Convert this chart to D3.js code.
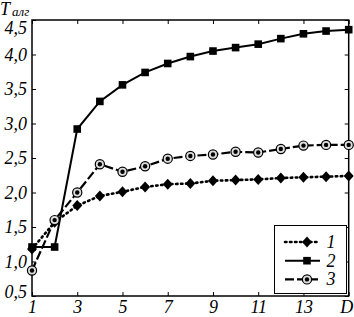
<!DOCTYPE html>
<html>
<head>
<meta charset="utf-8">
<script src="https://cdn.jsdelivr.net/npm/d3@7"></script>
<style>
  html, body { margin: 0; padding: 0; background: #fff; }
  svg text { font-family: "Liberation Serif", "DejaVu Serif", serif; font-style: italic; fill: #000; }
</style>
</head>
<body>
<svg id="chart" width="354" height="317"></svg>
<script>
// x positions: 1..14, the last point sits on D
const xVals = [1, 2, 3, 4, 5, 6, 7, 8, 9, 10, 11, 12, 13, 14, 15];
const series1 = [1.18, 1.57, 1.81, 1.95, 2.01, 2.08, 2.12, 2.13, 2.17, 2.18, 2.19, 2.21, 2.22, 2.23, 2.24];
const series2 = [1.21, 1.21, 2.92, 3.32, 3.56, 3.74, 3.87, 3.97, 4.05, 4.10, 4.15, 4.23, 4.30, 4.34, 4.36];
const series3 = [0.87, 1.60, 2.00, 2.41, 2.30, 2.38, 2.49, 2.53, 2.55, 2.59, 2.58, 2.63, 2.68, 2.69, 2.69];
const seriesNames = ['1', '2', '3'];
const xTicks = [1, 3, 5, 7, 9, 11, 13, 15];
const xTickLabels = ['1', '3', '5', '7', '9', '11', '13', 'D'];
const yTicks = [0.5, 1.0, 1.5, 2.0, 2.5, 3.0, 3.5, 4.0, 4.5];

const svg = d3.select('#chart');
const L = 32, R = 348.7, T = 20, B = 296;
const x = d3.scaleLinear().domain([1, 15]).range([L, R]);
const y = d3.scaleLinear().domain([0.5, 4.5]).range([B, T]);
const fmt = v => v.toFixed(1).replace('.', ',');

// inward ticks on all four sides
const tk = 4;
function strip(g) { g.select('.domain').remove(); g.selectAll('line').attr('stroke', '#000').attr('stroke-width', 1); }
svg.append('g').attr('transform', `translate(0,${B})`)
  .call(d3.axisBottom(x).tickValues(xTicks).tickSizeInner(-tk).tickSizeOuter(0).tickFormat((d, i) => xTickLabels[i]))
  .call(strip)
  .call(g => g.selectAll('text').attr('y', 4).attr('dy', '0.71em').style('font-size', '18px').style('font-family', null))
  .call(g => g.selectAll('text').filter(d => d === 15).attr('text-anchor', 'end').attr('dx', 4));
svg.append('g').attr('transform', `translate(0,${T})`)
  .call(d3.axisTop(x).tickValues(xTicks).tickSizeInner(-tk).tickSizeOuter(0).tickFormat(''))
  .call(strip);
svg.append('g').attr('transform', `translate(${L},0)`)
  .call(d3.axisLeft(y).tickValues(yTicks).tickSizeInner(-tk).tickSizeOuter(0).tickFormat(fmt))
  .call(strip)
  .call(g => g.selectAll('text').attr('x', -5).style('font-size', '18px').style('font-family', null))
  // end labels nudged inward, as in the original
  .call(g => g.selectAll('text').filter(d => d === 4.5).attr('y', 8))
  .call(g => g.selectAll('text').filter(d => d === 0.5).attr('y', -4));
svg.append('g').attr('transform', `translate(${R},0)`)
  .call(d3.axisRight(y).tickValues(yTicks).tickSizeInner(-tk).tickSizeOuter(0).tickFormat(''))
  .call(strip);

svg.append('rect').attr('x', L).attr('y', T).attr('width', R - L).attr('height', B - T)
  .attr('fill', 'none').attr('stroke', '#000').attr('stroke-width', 1.5);

// axis title T_алг
const ttl = svg.append('text').attr('x', 0).attr('y', 15).style('font-size', '18px');
ttl.append('tspan').text('T');
ttl.append('tspan').attr('dx', 2).attr('dy', 0.5).style('font-size', '13px').text('алг');

const styles = [
  { data: series1, dash: '1.5 3.5', cap: 'round', width: 2.6, marker: 'diamond' },
  { data: series2, dash: null, cap: 'butt', width: 2, marker: 'square' },
  { data: series3, dash: '9 3', cap: 'butt', width: 2.2, marker: 'circle' },
];

function drawMarker(g, kind, cx, cy) {
  if (kind === 'diamond') {
    g.append('path').attr('d', `M${cx},${cy - 5.5}L${cx + 5},${cy}L${cx},${cy + 5.5}L${cx - 5},${cy}Z`).attr('fill', '#000');
  } else if (kind === 'square') {
    g.append('rect').attr('x', cx - 3.8).attr('y', cy - 3.8).attr('width', 7.6).attr('height', 7.6).attr('fill', '#000');
  } else {
    g.append('circle').attr('cx', cx).attr('cy', cy).attr('r', 4.6).attr('fill', '#ddd').attr('stroke', '#000').attr('stroke-width', 1.2);
    g.append('circle').attr('cx', cx).attr('cy', cy).attr('r', 2.2).attr('fill', '#000');
  }
}

const line = d3.line().x((d, i) => x(xVals[i])).y(d => y(d));
styles.forEach(s => {
  svg.append('path').attr('d', line(s.data)).attr('fill', 'none').attr('stroke', '#000')
    .attr('stroke-width', s.width).attr('stroke-dasharray', s.dash).attr('stroke-linecap', s.cap);
});
styles.forEach(s => {
  const g = svg.append('g');
  s.data.forEach((v, i) => drawMarker(g, s.marker, x(xVals[i]), y(v)));
});

// legend
const lg = svg.append('g');
lg.append('rect').attr('x', 274.5).attr('y', 225.5).attr('width', 72).attr('height', 68)
  .attr('fill', '#fff').attr('stroke', '#000').attr('stroke-width', 1);
styles.forEach((s, i) => {
  const yy = 242 + i * 18.7;
  lg.append('line').attr('x1', 285).attr('x2', 320).attr('y1', yy).attr('y2', yy)
    .attr('stroke', '#000').attr('stroke-width', s.width).attr('stroke-dasharray', s.dash).attr('stroke-linecap', s.cap);
  drawMarker(lg, s.marker, 307, yy);
  lg.append('text').attr('x', 331).attr('y', yy).attr('dy', '0.33em').attr('text-anchor', 'middle')
    .style('font-size', '18px').text(seriesNames[i]);
});
</script>
</body>
</html>
